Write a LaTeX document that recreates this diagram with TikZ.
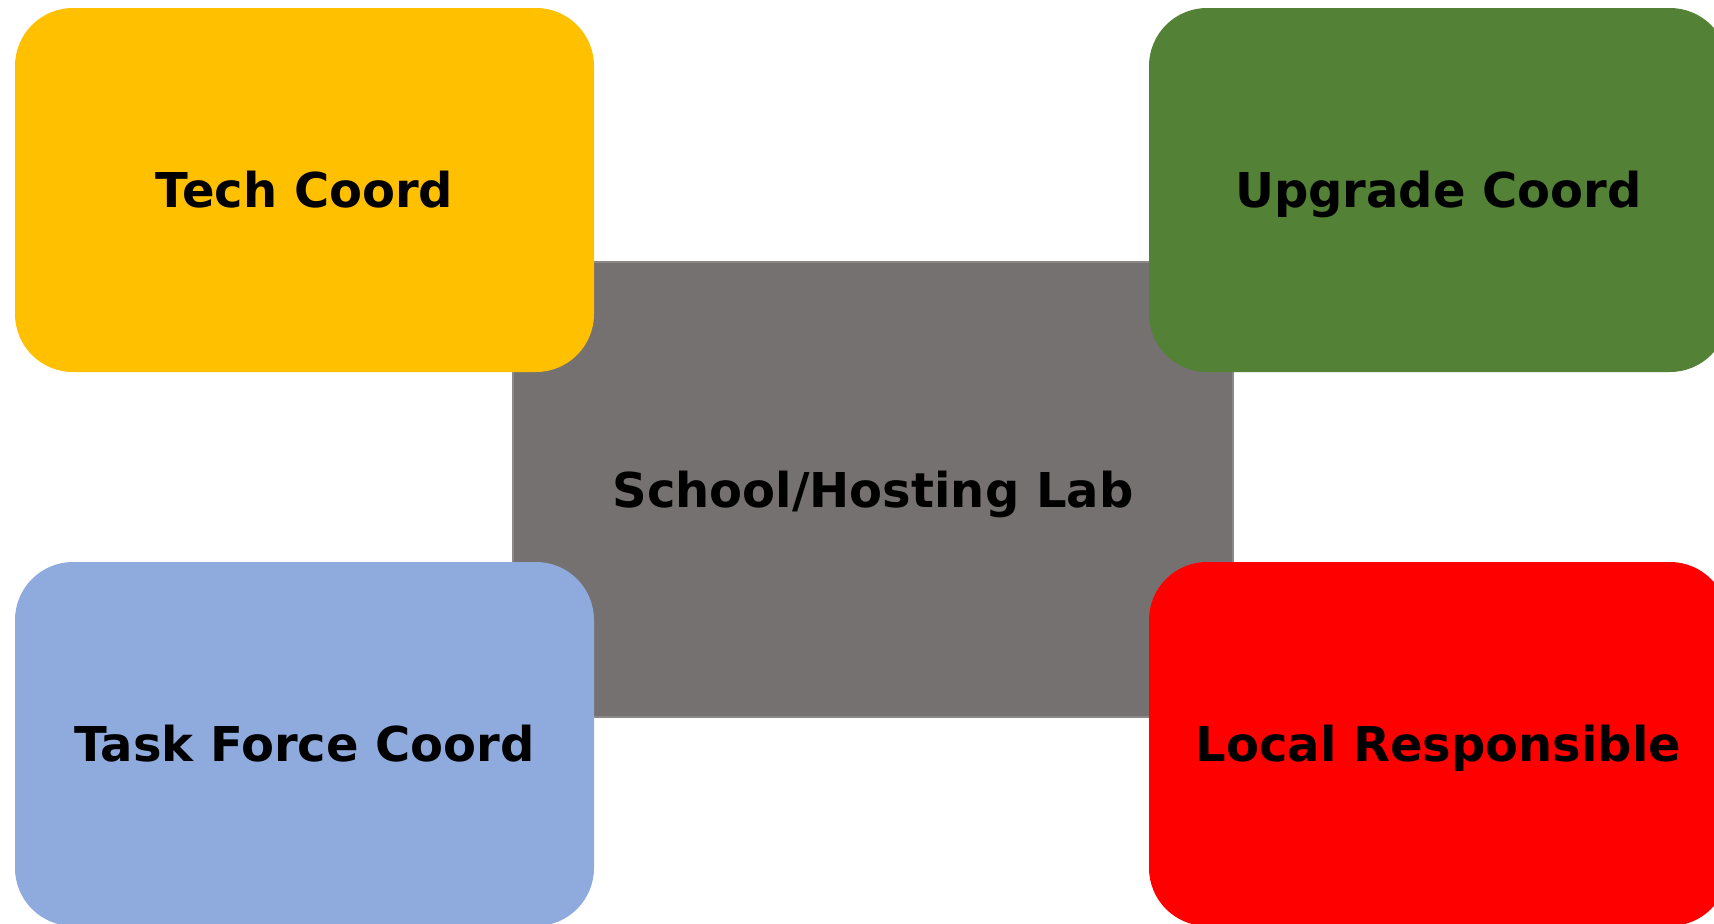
\documentclass[tikz,border=0pt]{standalone}
\usepackage{fontspec}
\setmainfont{DejaVu Sans}
\definecolor{techyellow}{HTML}{FFC000}
\definecolor{upgradegreen}{HTML}{538135}
\definecolor{taskblue}{HTML}{8FAADC}
\definecolor{localred}{HTML}{FF0000}
\definecolor{labgray}{HTML}{767171}
\definecolor{labedge}{HTML}{8C8888}
\begin{document}
\begin{tikzpicture}[x=0.5pt, y=-0.5pt,
    rolebox/.style={rounded corners=29pt, minimum width=289.5pt, minimum height=182pt,
      inner sep=0pt, text height=17.5pt, text depth=0pt,
      font=\fontsize{24}{28}\selectfont\bfseries},
    labbox/.style={fill=labgray, draw=labedge, line width=0.75pt,
      minimum width=360pt, minimum height=227.5pt, inner sep=0pt,
      text height=17.5pt, text depth=0pt,
      font=\fontsize{24}{28}\selectfont\bfseries}]
        % \draw[help lines, gray!50, very thin] (0,0) grid (1714,923);
        \useasboundingbox (0,0) rectangle (1714,923);
        \clip (0,0) rectangle (1714,923);

        \node[labbox] (lab) at (873,489.5) {School/Hosting Lab};

        \node[rolebox, fill=techyellow] (tech) at (304.5,190) {Tech Coord};
        \node[rolebox, fill=upgradegreen] (upgrade) at (1438.5,190) {Upgrade Coord};

        \node[rolebox, fill=taskblue] (task) at (304.5,744) {Task Force Coord};
        \node[rolebox, fill=localred] (local) at (1438.5,744) {Local Responsible};
      \end{tikzpicture}
\end{document}
